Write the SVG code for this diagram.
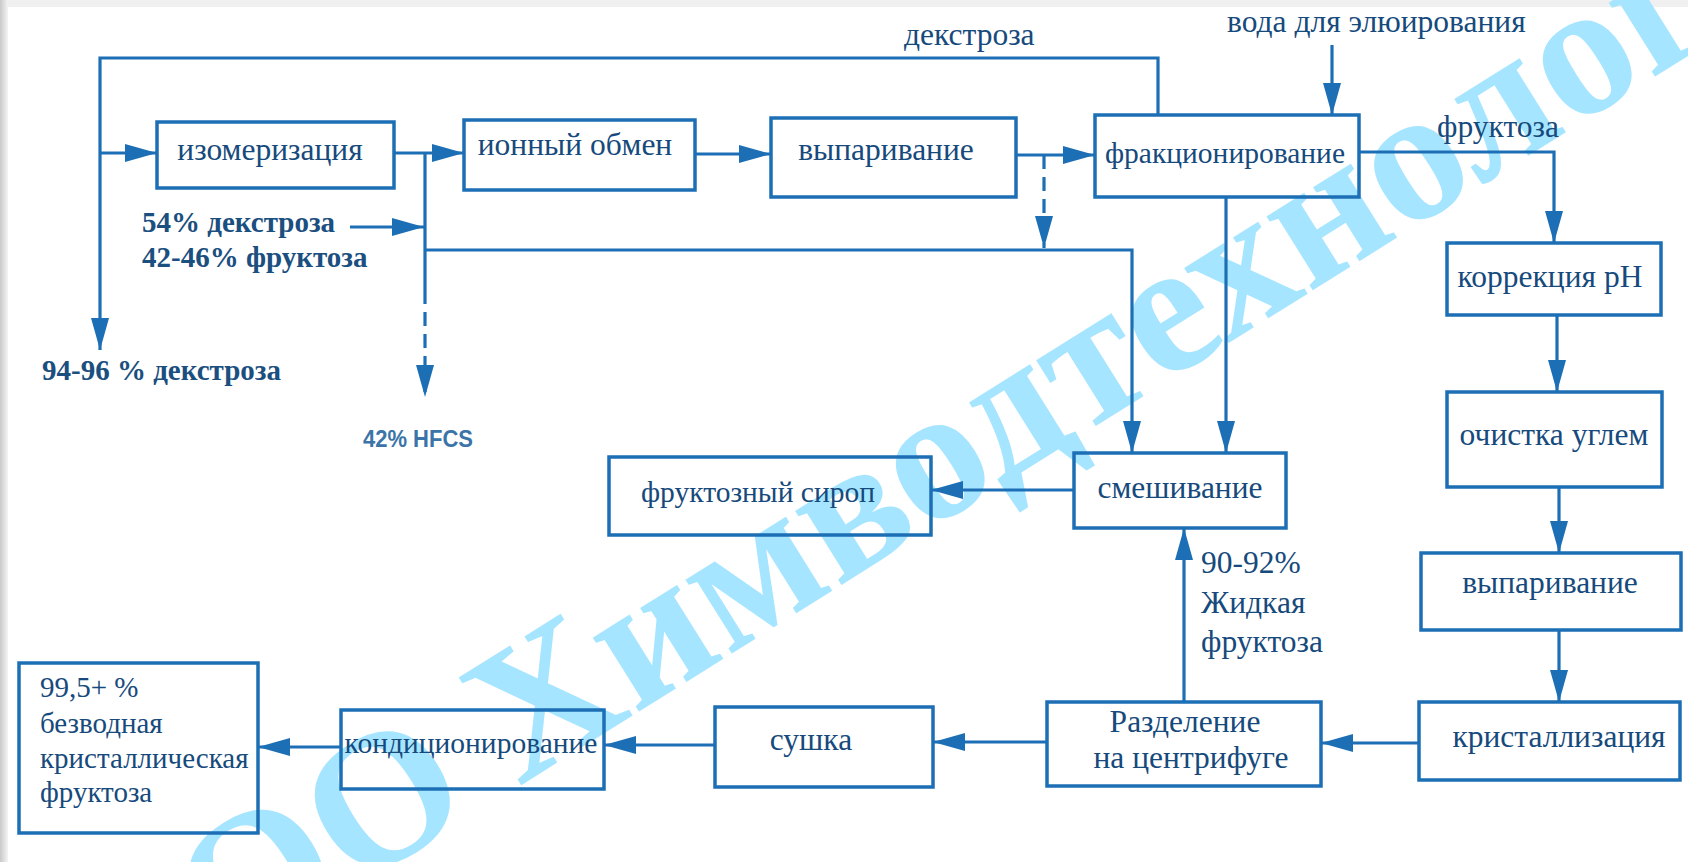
<svg xmlns="http://www.w3.org/2000/svg" width="1688" height="862" viewBox="0 0 1688 862">
<defs>
<linearGradient id="edgeL" x1="0" y1="0" x2="1" y2="0"><stop offset="0" stop-color="#c9c9c9"/><stop offset="1" stop-color="#f4f4f4"/></linearGradient>
<marker id="ah" markerUnits="userSpaceOnUse" markerWidth="34" markerHeight="20" refX="32" refY="9" orient="auto"><path d="M0,0 L32,9 L0,18 z" fill="#1d6fb5"/></marker>
<style>
.box{fill:none;stroke:#1d6fb5;stroke-width:3.5}
.t{font-family:"Liberation Serif","Times New Roman",serif;font-size:31.5px;fill:#164a7c}
.s{font-size:29.5px}
.m{text-anchor:middle}
.b{font-family:"Liberation Serif","Times New Roman",serif;font-size:29px;font-weight:bold;fill:#1b4f80}
.c{fill:none;stroke:#1d6fb5;stroke-width:3.2}
.a{marker-end:url(#ah)}
.d{stroke-dasharray:14 8}
.wm{font-family:"Liberation Serif","Times New Roman",serif;font-size:190px;font-weight:bold;fill:#a6e5ff}
</style>
</defs>
<rect width="1688" height="862" fill="#ffffff"/>
<rect x="0" y="0" width="1688" height="7" fill="#f0f0f0"/>
<rect x="0" y="0" width="8" height="862" fill="url(#edgeL)"/>
<text class="wm" transform="translate(102,1047) rotate(-32)">ООО Химводтехнологии</text>
<g id="connectors">
<path class="c a" d="M1158,115 V58 H100 V350"/>
<path class="c a" d="M100,153 H157"/>
<path class="c a" d="M394,153 H464"/>
<path class="c" d="M425,153 V290"/>
<path class="c d a" d="M425,290 V397"/>
<path class="c a" d="M350,227 H424"/>
<path class="c a" d="M425,250 H1132 V453"/>
<path class="c a" d="M695,154 H771"/>
<path class="c a" d="M1016,155 H1095"/>
<path class="c d a" d="M1044,155 V248"/>
<path class="c a" d="M1332,45 V115"/>
<path class="c a" d="M1359,152 H1554 V243"/>
<path class="c a" d="M1226,197 V453"/>
<path class="c a" d="M1557,315 V392"/>
<path class="c a" d="M1559,487 V553"/>
<path class="c a" d="M1559,630 V702"/>
<path class="c a" d="M1419,743 H1321"/>
<path class="c a" d="M1184,702 V528"/>
<path class="c a" d="M1074,490 H931"/>
<path class="c a" d="M1047,742 H933"/>
<path class="c a" d="M715,745 H604"/>
<path class="c a" d="M341,747 H258"/>
</g>
<g id="labels">
<text class="t" x="904" y="45">декстроза</text>
<text class="t" x="1227" y="32">вода для элюирования</text>
<text class="t" x="1437" y="137">фруктоза</text>
<text class="b" x="142" y="232">54% декстроза</text>
<text class="b" x="142" y="267">42-46% фруктоза</text>
<text class="b" x="42" y="380">94-96 % декстроза</text>
<text x="363" y="447" font-family="Liberation Sans, Arial, sans-serif" font-size="24" font-weight="bold" fill="#3a74a8" textLength="110" lengthAdjust="spacingAndGlyphs">42% HFCS</text>
<text class="t" x="1201" y="573">90-92%</text>
<text class="t" x="1201" y="613">Жидкая</text>
<text class="t" x="1201" y="652">фруктоза</text>
</g>
<g id="n-izomer"><rect class="box" x="157" y="122" width="237" height="66"/><text class="t m" x="270" y="160">изомеризация</text></g>
<g id="n-ion"><rect class="box" x="464" y="120" width="231" height="70"/><text class="t m" x="575" y="155">ионный обмен</text></g>
<g id="n-vypar1"><rect class="box" x="771" y="118" width="245" height="79"/><text class="t m" x="886" y="160">выпаривание</text></g>
<g id="n-fract"><rect class="box" x="1095" y="115" width="264" height="82"/><text class="t s m" x="1225" y="163">фракционирование</text></g>
<g id="n-korr"><rect class="box" x="1447" y="243" width="214" height="72"/><text class="t m" x="1550" y="287">коррекция pH</text></g>
<g id="n-ochist"><rect class="box" x="1447" y="392" width="215" height="95"/><text class="t m" x="1554" y="445">очистка углем</text></g>
<g id="n-vypar2"><rect class="box" x="1421" y="553" width="260" height="77"/><text class="t m" x="1550" y="593">выпаривание</text></g>
<g id="n-krist"><rect class="box" x="1419" y="702" width="261" height="78"/><text class="t m" x="1559" y="747">кристаллизация</text></g>
<g id="n-razdel"><rect class="box" x="1047" y="702" width="274" height="84"/><text class="t m" x="1185" y="732">Разделение</text><text class="t m" x="1191" y="768">на центрифуге</text></g>
<g id="n-smesh"><rect class="box" x="1074" y="453" width="212" height="75"/><text class="t m" x="1180" y="498">смешивание</text></g>
<g id="n-sirop"><rect class="box" x="609" y="457" width="322" height="78"/><text class="t s m" x="758" y="502">фруктозный сироп</text></g>
<g id="n-sushka"><rect class="box" x="715" y="707" width="218" height="80"/><text class="t m" x="811" y="750">сушка</text></g>
<g id="n-kondic"><rect class="box" x="341" y="710" width="263" height="79"/><text class="t s m" x="471" y="753">кондиционирование</text></g>
<g id="n-product"><rect class="box" x="19" y="663" width="239" height="170"/>
<text class="t" x="40" y="697" style="font-size:29px">99,5+ %</text><text class="t" x="40" y="733" style="font-size:29px">безводная</text><text class="t" x="40" y="768" style="font-size:29px">кристаллическая</text><text class="t" x="40" y="802" style="font-size:29px">фруктоза</text></g>
</svg>
